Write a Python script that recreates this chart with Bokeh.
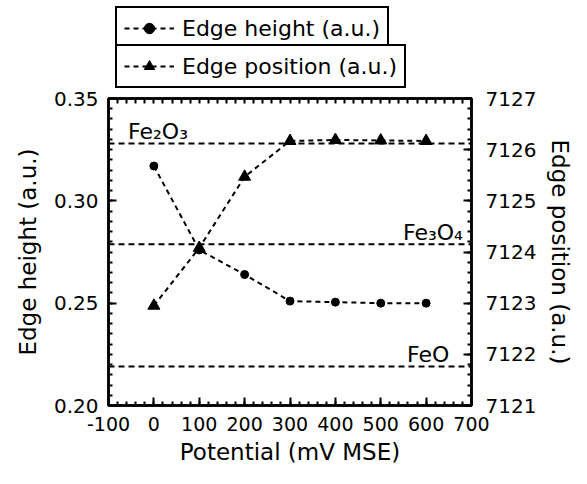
from bokeh.plotting import figure
from bokeh.layouts import column
from bokeh.models import (Range1d, LinearAxis, FixedTicker, NumeralTickFormatter,
                          Legend, LegendItem, Span, Label, ColumnDataSource)
from bokeh.embed import file_html
from bokeh.resources import INLINE

# ---- data ----
potential = [0, 100, 200, 300, 400, 500, 600]
edge_height = [0.317, 0.276, 0.264, 0.251, 0.2505, 0.250, 0.250]
edge_position = [7122.95, 7124.08, 7125.47, 7126.17, 7126.19, 7126.18, 7126.17]
ref_names = ["Fe₂O₃", "Fe₃O₄", "FeO"]
ref_positions = [7126.12, 7124.15, 7121.76]
ref_label_x = [-57, 549, 558]

x_ticks = [-100, 0, 100, 200, 300, 400, 500, 600, 700]
height_ticks = [0.20, 0.25, 0.30, 0.35]
position_ticks = [7121, 7122, 7123, 7124, 7125, 7126, 7127]

x_minor = [-100 + 20 * i for i in range(41)]
height_minor = [round(0.20 + 0.005 * i, 3) for i in range(31)]
position_minor = [round(7121 + 0.2 * i, 1) for i in range(31)]

FONT = "DejaVu Sans"
TOTAL_W = 571

src = ColumnDataSource(data=dict(x=potential, h=edge_height, e=edge_position))

p = figure(width=TOTAL_W, frame_width=363, frame_height=307,
           x_range=Range1d(-100, 700), y_range=Range1d(0.20, 0.35),
           output_backend="svg", toolbar_location=None,
           min_border_left=108, min_border_right=100,
           min_border_top=10, min_border_bottom=63)
p.extra_y_ranges = {"pos": Range1d(7121, 7127)}
p.xgrid.visible = False
p.ygrid.visible = False
p.outline_line_color = "black"
p.outline_line_width = 2.5


def style(ax, fs="20px"):
    ax.axis_line_color = "black"
    ax.axis_line_width = 2.5
    ax.major_tick_in = 8
    ax.major_tick_out = 0
    ax.minor_tick_in = 4
    ax.minor_tick_out = 0
    ax.major_tick_line_width = 2
    ax.minor_tick_line_width = 2
    ax.major_tick_line_color = "black"
    ax.minor_tick_line_color = "black"
    ax.major_label_text_font = FONT
    ax.major_label_text_font_size = fs
    ax.major_label_text_color = "black"
    ax.axis_label_text_font = FONT
    ax.axis_label_text_font_size = "23px"
    ax.axis_label_text_font_style = "normal"
    ax.axis_label_text_color = "black"


xa = p.xaxis[0]
xa.ticker = FixedTicker(ticks=x_ticks, minor_ticks=x_minor)
xa.formatter = NumeralTickFormatter(format="0")
xa.axis_label = "Potential (mV MSE)"
style(xa, "19px")
xa.major_label_standoff = 11
xa.axis_label_standoff = 5

ya = p.yaxis[0]
ya.ticker = FixedTicker(ticks=height_ticks, minor_ticks=height_minor)
ya.formatter = NumeralTickFormatter(format="0.00")
ya.axis_label = "Edge height (a.u.)"
style(ya)
ya.major_label_standoff = 10
ya.axis_label_standoff = 10

ra = LinearAxis(y_range_name="pos",
                ticker=FixedTicker(ticks=position_ticks, minor_ticks=position_minor),
                axis_label="Edge position (a.u.)")
style(ra)
ra.major_label_standoff = 14
ra.axis_label_standoff = 8
p.add_layout(ra, "right")

# top mirror ticks: no major ticks (so no labels), all marks as minor ticks
ta = LinearAxis(ticker=FixedTicker(ticks=[], minor_ticks=x_minor))
style(ta)
ta.minor_tick_in = 5
ta.major_label_standoff = 0
p.add_layout(ta, "above")

# reference levels
for name, pos, lx in zip(ref_names, ref_positions, ref_label_x):
    p.add_layout(Span(location=pos, dimension="width", y_range_name="pos",
                      line_color="black", line_width=2, line_dash="6 4"))
    p.add_layout(Label(x=lx, y=pos, y_range_name="pos", text=name,
                       text_font=FONT, text_font_size="22px", text_color="black",
                       text_baseline="alphabetic", y_offset=12))

# series
line_kw = dict(line_color="black", line_width=2, line_dash="5 4")
p.line("x", "h", source=src, **line_kw)
p.scatter("x", "h", source=src, marker="circle", size=8, color="black")
p.line("x", "e", source=src, y_range_name="pos", **line_kw)
p.scatter("x", "e", source=src, y_range_name="pos", marker="triangle",
          size=12, color="black")

# ---- legend strip above the plot ----
# key renderers share the data; this strip's y-range keeps them out of view
LEG_H = 88
lf = figure(width=TOTAL_W, height=LEG_H, x_range=Range1d(-100, 700),
            y_range=Range1d(-20000, -10000),
            output_backend="svg", toolbar_location=None,
            x_axis_type=None, y_axis_type=None,
            min_border=0, min_border_left=0, min_border_right=0,
            min_border_top=0, min_border_bottom=0)
lf.outline_line_color = None
lf.xgrid.visible = False
lf.ygrid.visible = False
kl1 = lf.line("x", "h", source=src, **line_kw)
ks1 = lf.scatter("x", "h", source=src, marker="circle", size=8, color="black")
kl2 = lf.line("x", "e", source=src, **line_kw)
ks2 = lf.scatter("x", "e", source=src, marker="triangle", size=12, color="black")


def make_legend(label, rends, loc):
    return Legend(items=[LegendItem(label=label, renderers=rends)], location=loc,
                  border_line_color="black", border_line_width=2.5, border_line_alpha=1,
                  background_fill_color="white", background_fill_alpha=1,
                  padding=7, margin=0, spacing=0, glyph_width=50, glyph_height=26,
                  label_standoff=8, label_text_font=FONT, label_text_font_size="22px",
                  label_text_color="black")


lf.add_layout(make_legend("Edge height (a.u.)", [kl1, ks1], (7, 38)))
lf.add_layout(make_legend("Edge position (a.u.)", [kl2, ks2], (7, 0)))

layout = column(lf, p, spacing=0)
open("out.html", "w").write(file_html(layout, INLINE))
